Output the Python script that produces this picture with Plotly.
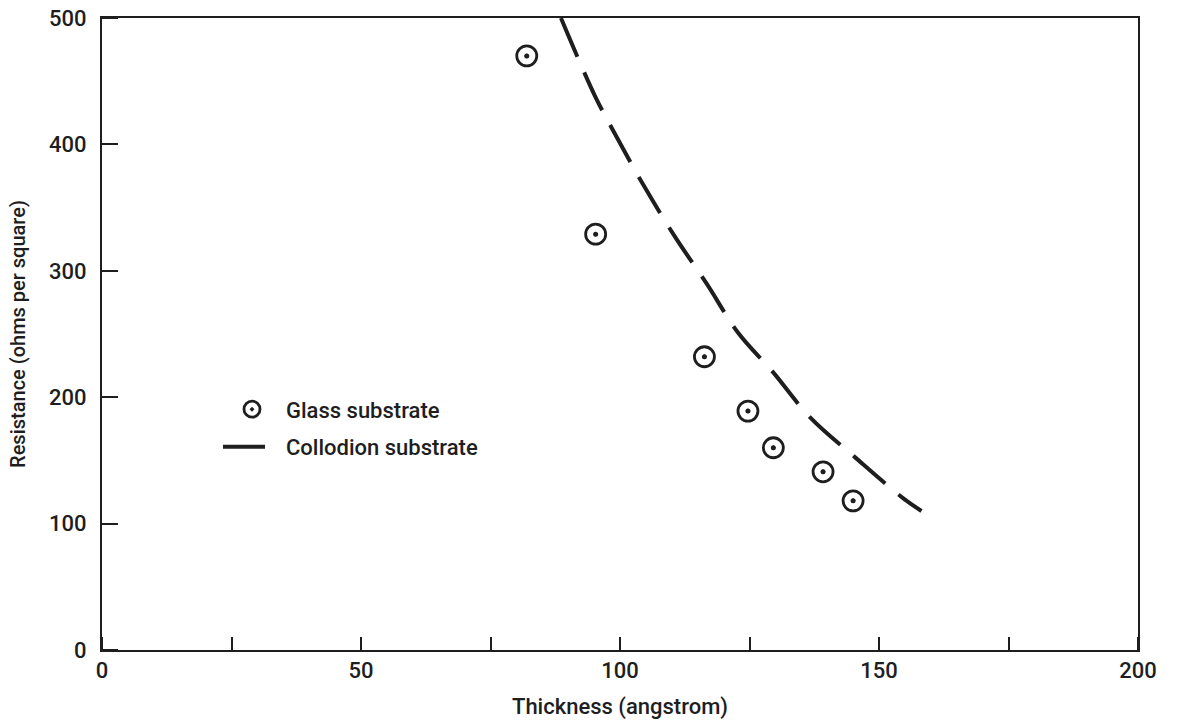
import plotly.graph_objects as go

# Film thickness vs. sheet resistance
glass_thickness = [82.0, 95.3, 116.3, 124.7, 129.6, 139.2, 145.0]
glass_resistance = [470, 329, 232, 189, 160, 141, 118]

collodion_thickness = [88.6, 95.2, 98.8, 104.5, 110.6, 116.7, 122.8, 129.5, 136.7, 145.5, 154.7, 158.2]
collodion_resistance = [500, 438, 410, 368, 327, 290, 251, 220, 184, 152, 120, 110]

x_tick_vals = [0, 50, 100, 150, 200]
y_tick_vals = [0, 100, 200, 300, 400, 500]

ink = "#1e1e1e"
font_family = "Roboto, Liberation Sans, Arial, sans-serif"

fig = go.Figure()

# open rings with a centre dot
fig.add_trace(go.Scatter(
    x=glass_thickness, y=glass_resistance,
    mode="markers", name="Glass substrate", legendgroup="glass",
    marker=dict(symbol="circle-open-dot", size=20, color=ink,
                line=dict(color=ink, width=2.8)),
))
fig.add_trace(go.Scatter(
    x=glass_thickness, y=glass_resistance,
    mode="markers", legendgroup="glass", showlegend=False, hoverinfo="skip",
    marker=dict(symbol="circle", size=5, color=ink, line=dict(width=0)),
))

fig.add_trace(go.Scatter(
    x=collodion_thickness, y=collodion_resistance,
    mode="lines", name="Collodion substrate", legendgroup="collodion",
    line=dict(color=ink, width=4, dash="42px,17px", shape="spline"),
))

fig.update_layout(
    width=1180, height=721,
    margin=dict(l=102, r=42, t=18, b=71),
    paper_bgcolor="white", plot_bgcolor="white",
    font=dict(family=font_family, color=ink, weight=500),
    showlegend=True,
    legend=dict(x=(218 - 102) / 1036, y=0.414, xanchor="left", yanchor="top",
                bgcolor="rgba(0,0,0,0)", font=dict(size=22, color=ink, weight=500),
                itemwidth=58, tracegroupgap=6),
)

fig.update_xaxes(
    range=[0, 200], tickvals=x_tick_vals, ticktext=[str(v) for v in x_tick_vals],
    showgrid=False, zeroline=False, automargin=False,
    showline=True, linecolor=ink, linewidth=2, mirror=True,
    ticks="", tickfont=dict(size=22, color=ink, weight=500),
    minor=dict(dtick=25, tick0=0, ticks="inside", ticklen=13, tickwidth=2, tickcolor=ink),
    title=dict(text="Thickness (angstrom)", font=dict(size=22, color=ink, weight=500), standoff=16),
)

fig.update_yaxes(
    range=[0, 500], tickvals=y_tick_vals, ticktext=[str(v) for v in y_tick_vals],
    showgrid=False, zeroline=False, automargin=False,
    showline=True, linecolor=ink, linewidth=2, mirror=True,
    ticks="", tickfont=dict(size=22, color=ink, weight=500), ticklabelstandoff=9,
    minor=dict(dtick=100, tick0=0, ticks="inside", ticklen=16, tickwidth=2, tickcolor=ink),
    title=dict(text="Resistance (ohms per square)", font=dict(size=20, color=ink, weight=500), standoff=18),
)

fig.write_html("out.html")
